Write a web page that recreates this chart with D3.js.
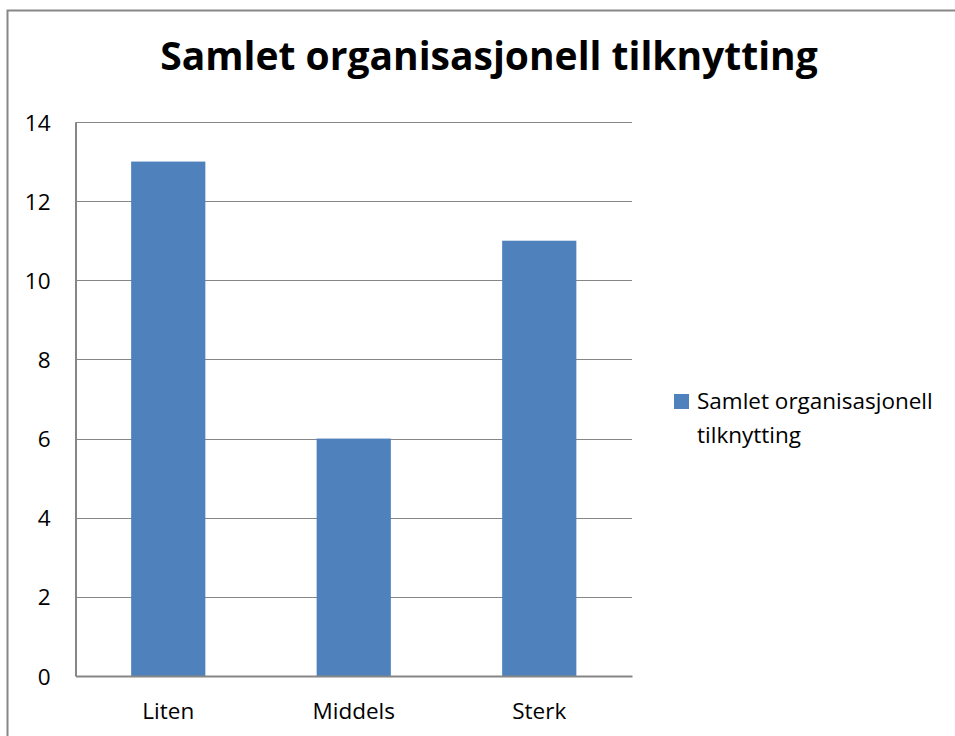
<!DOCTYPE html>
<html>
<head>
<meta charset="utf-8">
<script src="https://cdn.jsdelivr.net/npm/d3@7"></script>
<style>
  html, body { margin: 0; padding: 0; background: #fff; }
  svg { display: block; font-family: "Open Sans", sans-serif; font-variant-ligatures: none; }
</style>
</head>
<body>
<svg id="chart" width="955" height="736"></svg>
<script>
// Chart data
const categories = ["Liten", "Middels", "Sterk"];
const values = [13, 6, 11];
const seriesName = ["Samlet organisasjonell", "tilknytting"];
const yTicks = [0, 2, 4, 6, 8, 10, 12, 14];
const titleText = "Samlet organisasjonell tilknytting";

const svg = d3.select("#chart");
const W = 955, H = 736;
const labelSize = 22.5;

// Outer chart frame
svg.append("rect")
  .attr("x", 7.5).attr("y", 10.5)
  .attr("width", W + 20).attr("height", H + 20)
  .attr("fill", "#fff")
  .attr("stroke", "#878787")
  .attr("stroke-width", 2);

const plot = { left: 75.5, right: 632, top: 122, bottom: 676 };

const x = d3.scaleBand()
  .domain(categories)
  .range([plot.left, plot.right])
  .paddingInner(0.6)
  .paddingOuter(0.3);

const y = d3.scaleLinear()
  .domain([0, 14])
  .range([plot.bottom, plot.top]);

// Horizontal gridlines
svg.append("g")
  .selectAll("line")
  .data(yTicks.filter(d => d > 0))
  .join("line")
  .attr("x1", plot.left).attr("x2", plot.right)
  .attr("y1", d => Math.round(y(d)) + 0.5)
  .attr("y2", d => Math.round(y(d)) + 0.5)
  .attr("stroke", "#868686")
  .attr("stroke-width", 1);

// Bars
svg.append("g")
  .selectAll("rect")
  .data(values)
  .join("rect")
  .attr("x", (d, i) => x(categories[i]))
  .attr("width", x.bandwidth())
  .attr("y", d => y(d))
  .attr("height", d => y(0) - y(d))
  .attr("fill", "#4f81bd");

// Y axis
const yAxis = d3.axisLeft(y).tickValues(yTicks).tickSize(0).tickPadding(0);
const gy = svg.append("g")
  .attr("transform", `translate(${plot.left},0)`)
  .call(yAxis);
gy.select(".domain").attr("stroke", "#868686").attr("stroke-width", 2);
gy.selectAll("text")
  .attr("x", -25)
  .attr("text-anchor", "end")
  .attr("dy", 8)
  .attr("font-size", labelSize)
  .attr("font-family", "'Open Sans', sans-serif")
  .attr("fill", "#000");

// X axis
const xAxis = d3.axisBottom(x).tickSize(0).tickPadding(0);
const gx = svg.append("g")
  .attr("transform", `translate(0,${plot.bottom})`)
  .call(xAxis);
gx.select(".domain").attr("stroke", "#868686").attr("stroke-width", 2);
gx.selectAll("text")
  .attr("y", 43)
  .attr("dy", 0)
  .attr("font-size", labelSize)
  .attr("font-family", "'Open Sans', sans-serif")
  .attr("fill", "#000");

// Title
svg.append("text")
  .attr("x", 489).attr("y", 70)
  .attr("text-anchor", "middle")
  .attr("font-size", 39)
  .attr("font-weight", "bold")
  .attr("fill", "#000")
  .text(titleText);

// Legend
const legend = svg.append("g");
legend.append("rect")
  .attr("x", 674).attr("y", 394)
  .attr("width", 15).attr("height", 15)
  .attr("fill", "#4f81bd");
const lt = legend.append("text")
  .attr("x", 697).attr("y", 409)
  .attr("font-size", labelSize)
  .attr("fill", "#000");
lt.selectAll("tspan")
  .data(seriesName)
  .join("tspan")
  .attr("x", 697)
  .attr("dy", (d, i) => i === 0 ? 0 : 34)
  .text(d => d);
</script>
</body>
</html>
